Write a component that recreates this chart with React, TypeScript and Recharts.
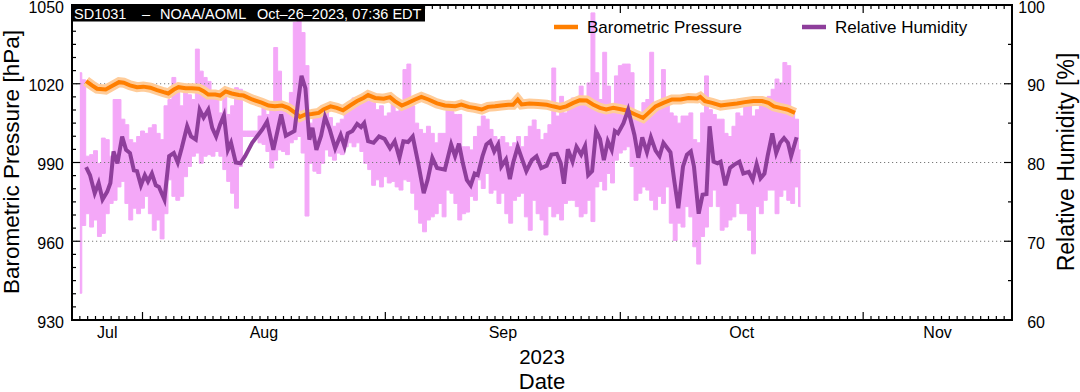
import { ComposedChart, Line, Area, XAxis, YAxis, ReferenceLine, ReferenceArea } from 'recharts';

const FONT = '"Liberation Sans", Arial, Helvetica, sans-serif';

// x axis is "days since Jul 1 2023" (31 = Aug 1, 62 = Sep 1, 92 = Oct 1, 123 = Nov 1)
const monthStarts = [31, 62, 92, 123];
const monthLabels = ['Jul', 'Aug', 'Sep', 'Oct', 'Nov'];
const monthLabelPos = [26.5, 46.5, 77.01, 107.5, 132.5];
const dayTicks = Array.from({ length: 121 }, (_, i) => 22 + i);
const pressTicks = Array.from({ length: 25 }, (_, i) => 930 + i * 5);
const rhTicks = Array.from({ length: 9 }, (_, i) => 60 + i * 5);

// barometric pressure (hPa), smoothed
const pressTime = [
  23.8, 24.55, 25.2, 26.3, 27.1, 28.0, 28.6, 29.4, 30.3, 31.1, 32.0, 32.85, 33.7, 34.3, 35.0, 35.6,
  36.5, 37.3, 38.2, 38.8, 39.4, 40.3, 40.9, 41.6, 42.4, 43.3, 43.9, 45.0, 46.2, 47.1, 47.9, 48.8,
  49.6, 50.5, 51.1, 51.8, 52.6, 53.5, 54.1, 55.0, 55.8, 56.6, 57.5, 58.4, 59.2, 59.8, 60.7, 61.8,
  62.6, 63.2, 64.1, 64.9, 65.8, 66.6, 67.5, 68.6, 69.6, 70.9, 71.7, 72.6, 73.4, 74.3, 75.1, 76.0,
  76.8, 77.7, 78.3, 78.9, 79.4, 80.4, 81.5, 82.6, 83.4, 84.3, 85.1, 86.0, 86.8, 87.7, 88.5, 89.4,
  90.2, 91.1, 91.9, 92.8, 93.9, 94.9, 95.6, 96.5, 97.5, 98.6, 99.7, 100.7, 101.8, 102.2, 102.8, 103.7,
  104.8, 105.8, 106.9, 107.9, 109.0, 110.1, 110.9, 111.6, 112.4, 113.3, 114.3,
];
const pressValue = [
  1021.0, 1019.4, 1018.1, 1017.8, 1019.1, 1020.6, 1020.4, 1019.4, 1018.7, 1018.9, 1018.5, 1017.6, 1016.8, 1016.3, 1017.8, 1018.7,
  1018.3, 1018.3, 1018.1, 1017.2, 1015.9, 1015.9, 1015.5, 1017.1, 1016.3, 1015.7, 1015.5, 1014.0, 1012.8, 1011.7, 1011.4, 1011.7,
  1010.8, 1008.9, 1007.4, 1008.3, 1008.5, 1008.9, 1010.2, 1011.4, 1010.8, 1009.9, 1011.7, 1013.4, 1014.6, 1015.7, 1014.6, 1014.3,
  1014.9, 1013.4, 1011.7, 1012.7, 1014.0, 1015.0, 1014.0, 1012.5, 1011.7, 1011.4, 1012.1, 1011.2, 1010.8, 1010.2, 1011.2, 1011.4,
  1011.7, 1012.0, 1012.0, 1014.0, 1012.1, 1012.5, 1012.3, 1012.0, 1011.4, 1010.8, 1011.4, 1012.7, 1013.7, 1013.6, 1012.1, 1010.8,
  1010.2, 1010.8, 1010.4, 1009.8, 1008.3, 1007.0, 1008.9, 1011.4, 1012.7, 1014.0, 1014.0, 1014.6, 1014.4, 1015.0, 1013.4, 1012.7,
  1011.7, 1012.1, 1012.5, 1013.0, 1013.4, 1013.4, 1012.7, 1011.4, 1010.8, 1010.2, 1008.9,
];

// relative humidity (%), smoothed
const rhTime = [
  23.8, 24.3, 24.9, 25.4, 25.9, 26.5, 26.9, 27.3, 27.8, 28.4, 28.9, 29.4, 29.9, 30.3, 30.8, 31.3,
  31.7, 32.2, 32.7, 33.1, 33.8, 34.4, 35.0, 35.5, 36.0, 36.7, 37.2, 37.8, 38.3, 38.8, 39.4, 39.9,
  40.4, 40.9, 41.4, 41.9, 42.3, 42.9, 43.5, 44.1, 45.0, 46.3, 46.9, 47.7, 48.7, 49.3, 50.4, 50.9,
  51.3, 51.8, 52.3, 52.7, 53.2, 53.8, 54.3, 54.9, 55.6, 56.3, 56.8, 57.2, 57.8, 58.4, 58.9, 59.3,
  59.8, 60.5, 61.2, 61.9, 62.6, 63.2, 63.8, 64.3, 64.9, 65.5, 66.2, 66.9, 67.4, 68.0, 68.6, 69.6,
  70.4, 70.9, 71.4, 71.9, 72.4, 72.9, 73.4, 73.8, 74.4, 74.9, 75.4, 75.9, 76.4, 76.8, 77.4, 77.9,
  78.3, 78.9, 79.5, 80.0, 80.7, 81.3, 81.9, 82.6, 83.2, 83.9, 84.4, 84.8, 85.3, 85.9, 86.4, 87.0,
  87.5, 87.9, 88.4, 88.9, 89.4, 89.9, 90.4, 90.9, 91.3, 91.7, 92.4, 93.0, 93.8, 94.3, 94.8, 95.4,
  95.9, 96.5, 97.0, 97.5, 98.4, 98.9, 99.4, 100.0, 100.5, 101.0, 101.4, 102.0, 102.5, 103.0, 103.4, 103.9,
  104.4, 104.8, 105.4, 106.0, 106.5, 107.2, 107.7, 108.4, 108.9, 109.4, 109.9, 110.4, 110.8, 111.4, 111.9, 112.4,
  112.9, 113.4, 113.8, 114.5,
];
const rhMean = [
  79.4, 78.4, 76.1, 77.4, 75.3, 76.3, 77.4, 81.4, 79.9, 83.3, 81.6, 81.2, 79.0, 78.9, 77.1, 78.4,
  77.6, 78.6, 77.1, 76.9, 75.3, 80.8, 81.2, 80.0, 81.8, 84.6, 83.3, 82.9, 86.7, 85.7, 86.7, 84.4,
  83.3, 84.8, 86.0, 81.6, 82.5, 80.0, 79.9, 80.8, 82.5, 84.2, 85.2, 81.6, 86.1, 83.4, 84.0, 88.0,
  91.0, 89.4, 82.9, 84.4, 81.6, 83.4, 85.8, 84.2, 81.8, 83.5, 82.0, 83.7, 84.0, 84.9, 84.5, 85.0,
  82.7, 82.5, 83.3, 83.0, 81.8, 82.7, 80.6, 82.7, 82.6, 83.3, 79.9, 76.1, 77.8, 80.6, 79.3, 79.1,
  82.3, 80.8, 82.4, 79.9, 77.8, 77.1, 78.6, 78.4, 80.8, 82.3, 82.7, 81.4, 82.3, 79.5, 80.4, 77.9,
  79.9, 82.0, 80.3, 78.9, 80.3, 80.8, 79.3, 79.6, 81.0, 81.1, 79.9, 77.3, 81.7, 80.1, 82.0, 81.0,
  82.1, 78.4, 78.9, 84.0, 83.0, 80.3, 82.7, 81.6, 84.0, 83.7, 85.0, 86.7, 83.5, 80.6, 83.2, 81.3,
  83.2, 81.5, 80.8, 82.5, 81.3, 77.6, 74.2, 79.5, 81.0, 81.4, 79.5, 73.5, 75.9, 76.0, 84.6, 80.1,
  79.9, 80.1, 77.1, 79.3, 79.7, 80.1, 78.6, 78.8, 77.8, 79.8, 78.0, 78.6, 80.8, 83.7, 81.2, 82.5,
  83.1, 82.5, 80.8, 83.2,
];

// raw relative humidity spread (%), every half day from day 23.0
const rhRangeStart = 23;
const rhLow = [
  63.4, 72.0, 73.5, 71.8, 72.7, 70.6, 71.0, 73.5, 74.8, 75.2,
  76.9, 77.6, 74.8, 72.7, 74.2, 73.5, 74.2, 75.7, 73.5, 71.4,
  72.7, 70.3, 73.5, 77.8, 75.7, 75.2, 75.7, 78.2, 79.5, 80.8,
  81.2, 79.9, 80.8, 81.0, 80.8, 81.4, 80.8, 79.1, 77.6, 76.1,
  74.2, 79.5, 83.3, 83.3, 83.3, 83.3, 82.5, 82.3, 81.4, 79.3,
  80.3, 81.6, 81.4, 81.0, 82.5, 82.9, 83.3, 81.2, 73.2, 79.9,
  78.9, 78.6, 79.9, 81.6, 80.8, 80.3, 81.2, 81.0, 82.0, 82.5,
  82.0, 82.5, 81.4, 79.9, 79.1, 77.1, 77.8, 76.9, 78.2, 77.4,
  77.6, 76.9, 76.5, 77.8, 77.6, 76.1, 74.0, 72.3, 71.2, 72.7,
  73.1, 73.5, 74.8, 73.1, 76.5, 76.1, 74.8, 72.7, 73.5, 73.7,
  75.7, 75.2, 77.8, 76.7, 78.6, 76.1, 76.5, 74.8, 76.1, 73.5,
  72.3, 75.2, 75.7, 76.1, 73.1, 71.4, 75.2, 73.5, 72.7, 70.8,
  74.4, 73.1, 73.5, 72.7, 74.8, 75.2, 75.2, 74.4, 73.1, 73.5,
  75.2, 72.5, 76.9, 77.6, 76.5, 78.6, 77.4, 80.3, 81.2, 81.6,
  82.0, 79.5, 75.2, 76.1, 76.9, 76.5, 75.2, 74.0, 75.7, 74.8,
  76.9, 72.3, 70.1, 72.3, 71.8, 74.4, 73.1, 69.3, 67.1, 70.6,
  71.8, 74.4, 76.5, 74.4, 71.4, 71.8, 72.7, 73.1, 74.8, 73.5,
  73.5, 71.4, 68.4, 74.4, 73.5, 75.2, 76.5, 76.5, 73.5, 75.7,
  76.5, 75.2, 74.8, 76.9, 74.4,
];
const rhHigh = [
  91.4, 90.5, 80.8, 81.0, 81.5, 79.9, 83.1, 82.9, 80.8, 88.0,
  88.0, 85.5, 84.8, 82.9, 82.5, 83.3, 84.0, 83.7, 84.4, 84.8,
  83.7, 82.9, 87.2, 88.0, 90.8, 89.7, 87.2, 89.7, 88.6, 88.0,
  94.4, 91.6, 90.8, 90.3, 88.6, 88.4, 86.3, 88.4, 86.1, 87.2,
  89.5, 89.3, 84.0, 84.0, 84.0, 84.0, 85.9, 87.6, 86.1, 87.6,
  94.6, 91.6, 86.7, 86.7, 88.9, 97.8, 99.5, 96.5, 92.3, 85.0,
  85.9, 85.9, 87.2, 86.7, 85.7, 84.6, 85.0, 85.5, 86.7, 87.6,
  88.2, 88.0, 88.4, 88.0, 87.8, 87.6, 86.7, 87.2, 85.9, 86.3,
  87.6, 86.5, 87.6, 91.8, 92.5, 87.2, 85.0, 84.2, 83.7, 84.6,
  83.7, 82.5, 83.7, 83.7, 86.7, 86.5, 86.1, 86.1, 82.0, 82.0,
  81.6, 83.3, 84.6, 85.9, 85.5, 84.2, 83.3, 82.9, 83.3, 82.5,
  82.0, 82.5, 83.3, 82.0, 83.3, 84.6, 85.4, 84.2, 82.9, 83.7,
  84.8, 92.0, 85.9, 88.4, 86.3, 87.6, 88.2, 87.2, 89.7, 88.0,
  90.1, 99.0, 91.4, 88.0, 94.0, 89.7, 87.2, 91.0, 92.3, 92.5,
  92.5, 91.4, 85.9, 85.9, 87.6, 88.0, 94.0, 87.2, 86.7, 91.8,
  87.6, 86.3, 85.9, 85.0, 85.9, 85.9, 86.3, 82.9, 82.5, 86.3,
  91.0, 86.7, 86.1, 85.5, 85.5, 83.7, 83.3, 84.6, 86.3, 85.9,
  87.2, 87.2, 85.9, 86.7, 87.2, 87.6, 88.4, 89.3, 90.6, 90.1,
  92.7, 92.3, 86.7, 85.5, 81.6,
];

const pressData = pressTime.map((t, i) => ({ t, p: pressValue[i] }));
const rhData = rhTime.map((t, i) => ({ t, rh: rhMean[i] }));
const rhRangeData = rhLow.map((lo, i) => ({ t: rhRangeStart + i * 0.5, range: [lo, rhHigh[i]] }));

// plot box in pixels
const LEFT = 72;
const RIGHT = 1012;
const TOP = 5;
const BOTTOM = 320;

const DateTick = (props: any) => {
  const { x, payload } = props;
  const v = payload.value;
  const li = monthLabelPos.indexOf(v);
  if (li >= 0) {
    return (
      <text x={x} y={BOTTOM + 18} textAnchor="middle" fontSize={16} fontFamily={FONT} fill="#000">
        {monthLabels[li]}
      </text>
    );
  }
  const len = monthStarts.includes(v) ? 8 : 4;
  return (
    <g>
      <line x1={x} x2={x} y1={BOTTOM} y2={BOTTOM - len} stroke="#000" strokeWidth={1.2} />
      <line x1={x} x2={x} y1={TOP} y2={TOP + len} stroke="#000" strokeWidth={1.2} />
    </g>
  );
};

const PressTick = (props: any) => {
  const { y, payload } = props;
  const major = payload.value % 30 === 0;
  return (
    <g>
      <line x1={LEFT} x2={LEFT + (major ? 8 : 4)} y1={y} y2={y} stroke="#000" strokeWidth={1.2} />
      {major && (
        <text x={LEFT - 8} y={y + 7.5} textAnchor="end" fontSize={16} fontFamily={FONT} fill="#000">
          {payload.value}
        </text>
      )}
    </g>
  );
};

const RhTick = (props: any) => {
  const { y, payload } = props;
  const major = payload.value % 10 === 0;
  return (
    <g>
      <line x1={RIGHT} x2={RIGHT - (major ? 8 : 4)} y1={y} y2={y} stroke="#000" strokeWidth={1.2} />
      {major && (
        <text x={RIGHT + 33} y={y + 7.5} textAnchor="end" fontSize={16} fontFamily={FONT} fill="#000">
          {payload.value}
        </text>
      )}
    </g>
  );
};

export default function App() {
  return (
    <div style={{ position: 'relative', width: 1080, height: 392, background: '#fff' }}>
      <style>{'body{margin:0}'}</style>
      <ComposedChart width={1080} height={392} margin={{ top: TOP, right: 1080 - RIGHT - 60, bottom: 0, left: LEFT - 60 }}>
        <XAxis
          xAxisId="t"
          dataKey="t"
          type="number"
          domain={[22, 142]}
          allowDataOverflow
          ticks={[...dayTicks, ...monthLabelPos]}
          interval={0}
          tick={DateTick}
          tickLine={false}
          axisLine={false}
          tickSize={0}
          tickMargin={0}
          height={392 - BOTTOM}
        />
        <YAxis
          yAxisId="p"
          orientation="left"
          type="number"
          domain={[930, 1050]}
          allowDataOverflow
          ticks={pressTicks}
          interval={0}
          tick={PressTick}
          tickLine={false}
          axisLine={false}
          tickSize={0}
          tickMargin={0}
          width={60}
        />
        <YAxis
          yAxisId="rh"
          orientation="right"
          type="number"
          domain={[60, 100]}
          allowDataOverflow
          ticks={rhTicks}
          interval={0}
          tick={RhTick}
          tickLine={false}
          axisLine={false}
          tickSize={0}
          tickMargin={0}
          width={60}
        />
        {[960, 990, 1020].map((g) => (
          <ReferenceLine key={g} xAxisId="t" yAxisId="p" y={g} stroke="#7a7a7a" strokeWidth={1} strokeDasharray="1.2 2.8" />
        ))}
        <Area
          data={rhRangeData}
          xAxisId="t"
          yAxisId="rh"
          dataKey="range"
          type="step"
          fill="#f4a8f8"
          fillOpacity={1}
          stroke="#f4a8f8"
          strokeWidth={1}
          dot={false}
          activeDot={false}
          isAnimationActive={false}
        />
        <Line
          data={pressData}
          xAxisId="t"
          yAxisId="p"
          dataKey="p"
          name="band"
          type="linear"
          stroke="#ffcc99"
          strokeWidth={10}
          dot={false}
          activeDot={false}
          isAnimationActive={false}
        />
        <Line
          data={pressData}
          xAxisId="t"
          yAxisId="p"
          dataKey="p"
          name="Barometric Pressure"
          type="linear"
          stroke="#ff7f00"
          strokeWidth={4}
          dot={false}
          activeDot={false}
          isAnimationActive={false}
        />
        <Line
          data={rhData}
          xAxisId="t"
          yAxisId="rh"
          dataKey="rh"
          name="Relative Humidity"
          type="linear"
          stroke="#8e3e9b"
          strokeWidth={4}
          dot={false}
          activeDot={false}
          isAnimationActive={false}
        />
        <ReferenceArea xAxisId="t" yAxisId="p" x1={22} x2={142} y1={930} y2={1050} fill="none" stroke="#000" strokeWidth={2} ifOverflow="visible" />
      </ComposedChart>

      <svg width={1080} height={392} style={{ position: 'absolute', left: 0, top: 0, pointerEvents: 'none' }} fontFamily={FONT}>
        <rect x={LEFT} y={TOP} width={353} height={16.5} fill="#000" />
        <text x={74} y={19.3} fontSize={14.5} fill="#fff">SD1031</text>
        <text x={142} y={19.3} fontSize={14.5} fill="#fff">–</text>
        <text x={160} y={19.3} fontSize={14.5} fill="#fff">NOAA/AOML</text>
        <text x={257} y={19.3} fontSize={14.5} fill="#fff">Oct–26–2023, 07:36 EDT</text>

        <line x1={554} x2={578} y1={27} y2={27} stroke="#ff7f00" strokeWidth={4.5} />
        <text x={587} y={33} fontSize={17} fill="#000">Barometric Pressure</text>
        <line x1={802} x2={826} y1={27} y2={27} stroke="#8e3e9b" strokeWidth={4.5} />
        <text x={835} y={33} fontSize={17} fill="#000">Relative Humidity</text>

        <text transform="translate(19,162) rotate(-90)" textAnchor="middle" fontSize={22.5} fill="#000">
          Barometric Pressure [hPa]
        </text>
        <text transform="translate(1074,162) rotate(-90)" textAnchor="middle" fontSize={23} fill="#000">
          Relative Humidity [%]
        </text>
        <text x={542} y={364} textAnchor="middle" fontSize={20.5} fill="#000">2023</text>
        <text x={542} y={388.5} textAnchor="middle" fontSize={22} fill="#000">Date</text>
      </svg>
    </div>
  );
}
